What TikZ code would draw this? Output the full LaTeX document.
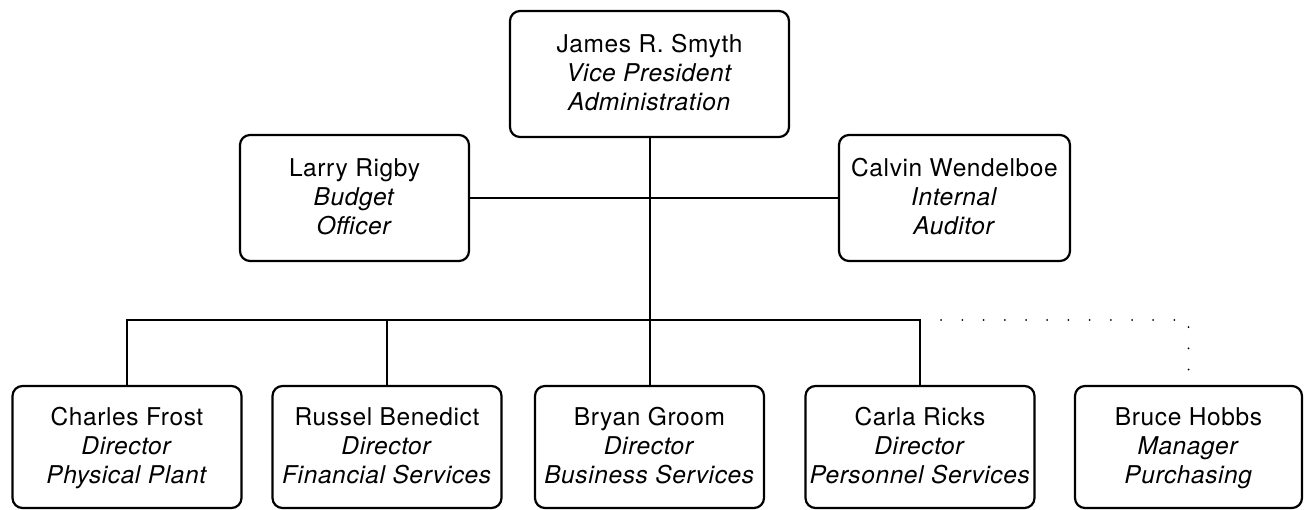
\documentclass[tikz,border=0pt]{standalone}
\usepackage{fontspec}
\newfontfamily\orgfont{TeX Gyre Heros}[LetterSpace=2.5]
% one person: name, then title and unit in italics
\newcommand\person[3]{\strut#1\\\textit{#2}\\\textit{#3}\rule[-5.5pt]{0pt}{0pt}}
\begin{document}
\begin{tikzpicture}[x=1pt,y=-1pt,
  orgbox/.style={draw, line width=2.2pt, rounded corners=10pt, align=center,
    inner sep=0pt, font=\orgfont\fontsize{24.5}{29}\selectfont},
  wide/.style={minimum width=229pt, minimum height=126pt},
  lowbox/.style={minimum width=229pt, minimum height=122pt},
  link/.style={line width=2pt},
  dotlink/.style={line width=2pt, line cap=round, dash pattern=on 0pt off 21.2pt}]
\useasboundingbox (0,0) rectangle (1308,510);

% top of the chart
\node[orgbox, minimum width=279pt, minimum height=126pt] (vp) at (649.5,74)
  {\person{James R. Smyth}{Vice President}{Administration}};

% staff positions
\node[orgbox, wide] (budget) at (354.5,198)
  {\person{Larry Rigby}{Budget}{Officer}};
\node[orgbox, wide, minimum width=231pt] (audit) at (954.5,198)
  {\person{Calvin Wendelboe}{Internal}{Auditor}};

% directors and manager
\node[orgbox, lowbox] (d1) at (127,447)
  {\person{Charles Frost}{Director}{Physical Plant}};
\node[orgbox, lowbox] (d2) at (387,447)
  {\person{Russel Benedict}{Director}{Financial Services}};
\node[orgbox, lowbox] (d3) at (649.5,447)
  {\person{Bryan Groom}{Director}{Business Services}};
\node[orgbox, lowbox] (d4) at (920,447)
  {\person{Carla Ricks}{Director}{Personnel Services}};
\node[orgbox, lowbox, minimum width=227pt] (m5) at (1188.5,447)
  {\person{Bruce Hobbs}{Manager}{Purchasing}};

\coordinate (bus) at (0,320);

% reporting lines
\draw[link] (budget.east) -- (audit.west);
\draw[link] (vp.south) -- (d3.north);
\draw[link] (d1.north) -- (d1.north |- bus) -- (d4.north |- bus) -- (d4.north);
\draw[link] (d2.north) -- (d2.north |- bus);

% dotted line to purchasing
\draw[dotlink] (d4.north |- bus) -- (m5.north |- bus) -- (m5.north);
\end{tikzpicture}
\end{document}
